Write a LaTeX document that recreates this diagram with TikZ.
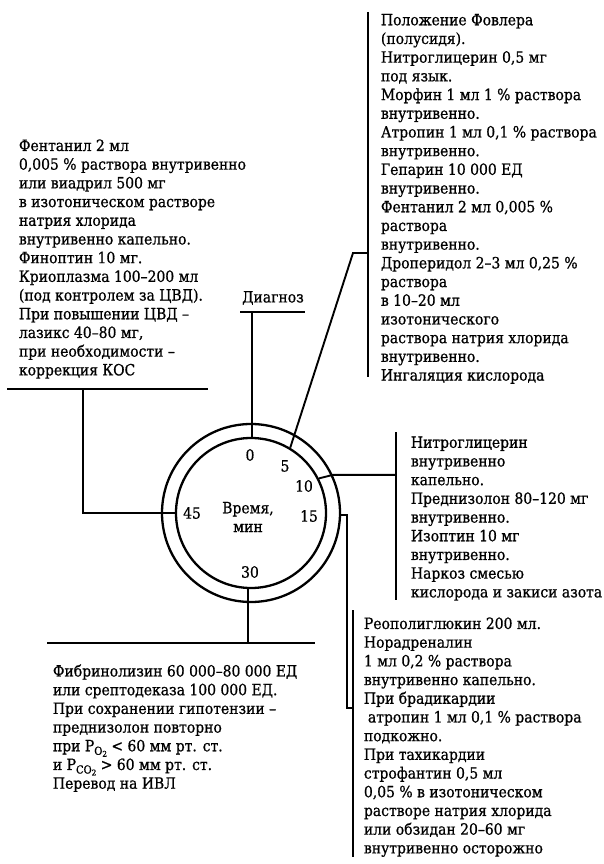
\documentclass[tikz,border=0pt]{standalone}
\usepackage{fontspec}
\setmainfont[FakeBold=0.8]{DejaVu Serif Condensed}
\newcommand{\psub}[2]{P\raisebox{-3.5pt}{\fontsize{11}{11}\selectfont #1\raisebox{-2pt}{\fontsize{8}{8}\selectfont #2}}}
\begin{document}
\begin{tikzpicture}[x=1pt,y=-1pt,line width=1.9pt,
  txt/.style={anchor=north west, inner sep=0pt, align=left, font=\fontsize{15.5}{18.7}\selectfont},
  num/.style={inner sep=0pt, font=\fontsize{15.5}{18.7}\selectfont},
  ring/.style={circle, draw, line width=2.3pt, inner sep=0pt}]
\useasboundingbox (0,0) rectangle (604,864);
\node[ring, minimum size=178pt] (clkout) at (251,513) {};
\node[ring, minimum size=150pt] (clkin) at (251,513) {};
\node[num] (t0) at (250,455) {0};
\node[num] (t5) at (285,466) {5};
\node[num] (t10) at (304,486) {10};
\node[num] (t15) at (309,516) {15};
\node[num] (t30) at (250,572) {30};
\node[num] (t45) at (192,513) {45};
\node[num, align=center] (tm) at (248,517) {Время,\\мин};
\node[num] (diag) at (273,298) {Диагноз};
\node[txt] (fowler) at (380,13) {Положение Фовлера\\
(полусидя).\\
Нитроглицерин 0,5 мг\\
под язык.\\
Морфин 1 мл 1 \% раствора\\
внутривенно.\\
Атропин 1 мл 0,1 \% раствора\\
внутривенно.\\
Гепарин 10 000 ЕД\\
внутривенно.\\
Фентанил 2 мл 0,005 \%\\
раствора\\
внутривенно.\\
Дроперидол 2--3 мл 0,25 \%\\
раствора\\
в 10--20 мл\\
изотонического\\
раствора натрия хлорида\\
внутривенно.\\
Ингаляция кислорода};
\node[txt] (fent) at (18,138.5) {Фентанил 2 мл\\
0,005 \% раствора внутривенно\\
или виадрил 500 мг\\
в изотоническом растворе\\
натрия хлорида\\
внутривенно капельно.\\
Финоптин 10 мг.\\
Криоплазма 100--200 мл\\
(под контролем за ЦВД).\\
При повышении ЦВД --\\
лазикс 40--80 мг,\\
при необходимости --\\
коррекция КОС};
\node[txt] (nitro) at (410,435.5) {Нитроглицерин\\
внутривенно\\
капельно.\\
Преднизолон 80--120 мг\\
внутривенно.\\
Изоптин 10 мг\\
внутривенно.\\
Наркоз смесью\\
кислорода и закиси азота};
\node[txt] (reo) at (363,616.5) {Реополиглюкин 200 мл.\\
Норадреналин\\
1 мл 0,2 \% раствора\\
внутривенно капельно.\\
При брадикардии\\
\hspace*{4pt}атропин 1 мл 0,1 \% раствора\\
подкожно.\\
При тахикардии\\
строфантин 0,5 мл\\
0,05 \% в изотоническом\\
растворе натрия хлорида\\
или обзидан 20--60 мг\\
внутривенно осторожно};
\node[txt] (fibr) at (52,663.5) {Фибринолизин 60 000--80 000 ЕД\\
или срептодеказа 100 000 ЕД.\\
При сохранении гипотензии --\\
преднизолон повторно\\
при \psub{O}{2} <\ 60 мм рт. ст.\\
и \psub{CO}{2} > 60 мм рт. ст.\\
Перевод на ИВЛ};
\coordinate (d1) at (240,312);
\coordinate (d2) at (305,312);
\coordinate (dtop) at (252,312);
\draw (d1) -- (d2);
\draw (dtop) -- (dtop |- clkin.north);
\coordinate (bf1) at (368,12);
\coordinate (bf2) at (368,377);
\coordinate (k5) at (353,253);
\draw (bf1) -- (bf2);
\draw (clkin.59) -- (k5) -- (bf1 |- k5);
\coordinate (bn1) at (396,432);
\coordinate (bn2) at (396,600);
\draw (bn1) -- (bn2);
\draw (clkin.27) -- (clkout.25) -- (bn1 |- clkout.25);
\coordinate (br1) at (353,610);
\coordinate (br2) at (353,857);
\coordinate (k15) at (347,708);
\draw (br1) -- (br2);
\draw (clkout.-1) -- (k15 |- clkout.-1) -- (k15) -- (br1 |- k15);
\coordinate (hb1) at (47,643);
\coordinate (hb2) at (315,643);
\coordinate (k30) at (248,643);
\draw (hb1) -- (hb2);
\draw (k30) -- (k30 |- clkin.south);
\coordinate (hl1) at (7,389);
\coordinate (hl2) at (208,389);
\coordinate (k45) at (83,389);
\draw (hl1) -- (hl2);
\draw (clkin.west) -- (k45 |- clkin.west) -- (k45);
\end{tikzpicture}
\end{document}
